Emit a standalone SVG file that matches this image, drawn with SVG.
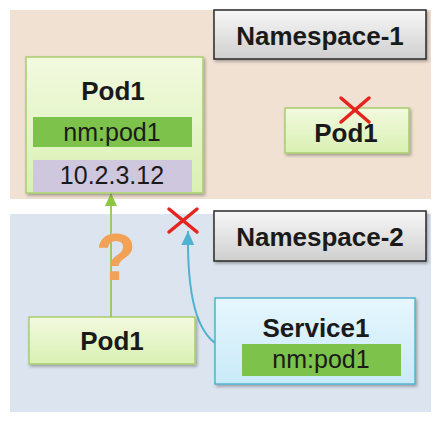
<svg xmlns="http://www.w3.org/2000/svg" width="442" height="422" viewBox="0 0 442 422">
<defs>
<linearGradient id="gGray" x1="0" y1="0" x2="0" y2="1"><stop offset="0" stop-color="#f7f7f7"/><stop offset="1" stop-color="#cfcfcf"/></linearGradient>
<linearGradient id="gGreen" x1="0" y1="0" x2="0" y2="1"><stop offset="0" stop-color="#f2fadf"/><stop offset="1" stop-color="#d9f0b2"/></linearGradient>
<linearGradient id="gBlue" x1="0" y1="0" x2="0" y2="1"><stop offset="0" stop-color="#e6f6fd"/><stop offset="1" stop-color="#c9eaf8"/></linearGradient>
<filter id="sh" x="-10%" y="-10%" width="130%" height="140%"><feDropShadow dx="1.5" dy="2" stdDeviation="1.5" flood-color="#000" flood-opacity="0.3"/></filter>
<marker id="mGreen" markerWidth="13" markerHeight="12" refX="13" refY="6" orient="auto" markerUnits="userSpaceOnUse" viewBox="0 0 13 12"><path d="M0,0 L13,6 L0,12 Z" fill="#8dc63f"/></marker>
<marker id="mBlue" markerWidth="14" markerHeight="13" refX="14" refY="6.5" orient="auto" markerUnits="userSpaceOnUse" viewBox="0 0 14 13"><path d="M0,0 L14,6.5 L0,13 Z" fill="#4fb3d0"/></marker>
</defs>
<style>
text{font-family:"Liberation Sans",Arial,sans-serif;text-anchor:middle;fill:#1a1a1a}
.b{font-weight:bold;font-size:26px}
.r{font-size:25px}
.ns{font-weight:bold;font-size:26px}
.nsbox{fill:url(#gGray);stroke:#2a2a2a;stroke-width:1.5}
.pod{fill:url(#gGreen);stroke:#a9cd6f;stroke-width:1.5}
.svc{fill:url(#gBlue);stroke:#52b2cf;stroke-width:1.5}
.tag{fill:#7dc24a}
.ip{fill:#cfc7de}
.x{stroke:#e5231f;stroke-width:3.5;stroke-linecap:round}
</style>
<rect width="442" height="422" fill="#ffffff"/>
<rect id="ns1-bg" x="10" y="10" width="421" height="189" fill="#f1e1d3"/>
<rect id="ns2-bg" x="10" y="214" width="421" height="198" fill="#dce5ef"/>

<g id="connectors">
<line x1="111" y1="317" x2="111" y2="193" stroke="#9ccb63" stroke-width="2" marker-end="url(#mGreen)"/>
<path d="M215,343 C198,330 187,300 188,231" fill="none" stroke="#4fb3d0" stroke-width="2" marker-end="url(#mBlue)"/>
</g>

<g id="namespace-1">
<rect class="nsbox" x="214" y="10" width="212" height="49" filter="url(#sh)"/>
<text class="ns" x="320" y="45">Namespace-1</text>
</g>
<g id="namespace-2">
<rect class="nsbox" x="214" y="211" width="212" height="50" filter="url(#sh)"/>
<text class="ns" x="320" y="246">Namespace-2</text>
</g>

<g id="pod1-ns1-main">
<rect class="pod" x="26" y="57" width="177" height="136" filter="url(#sh)"/>
<text class="b" x="113" y="100">Pod1</text>
<rect class="tag" x="33" y="117" width="159" height="30"/>
<text class="r" x="112" y="141">nm:pod1</text>
<rect class="ip" x="33" y="160" width="159" height="32"/>
<text class="r" x="112" y="184">10.2.3.12</text>
</g>

<g id="pod1-ns1-other">
<rect class="pod" x="285" y="108" width="124" height="45" filter="url(#sh)"/>
<text class="b" x="346" y="142">Pod1</text>
<line class="x" x1="341" y1="98" x2="369" y2="122"/>
<line class="x" x1="369" y1="98" x2="341" y2="122"/>
</g>

<g id="question">
<text x="116" y="280" style="font-size:66px;font-weight:bold;fill:#f2a257">?</text>
</g>

<g id="x-ns2">
<line class="x" x1="169" y1="209" x2="197" y2="232"/>
<line class="x" x1="197" y1="209" x2="169" y2="232"/>
</g>

<g id="pod1-ns2">
<rect class="pod" x="29" y="317" width="166" height="47" filter="url(#sh)"/>
<text class="b" x="112" y="350">Pod1</text>
</g>

<g id="service1">
<rect class="svc" x="215" y="298" width="200" height="86" filter="url(#sh)"/>
<text class="b" x="316" y="337">Service1</text>
<rect class="tag" x="242" y="344" width="159" height="32"/>
<text class="r" x="321" y="368">nm:pod1</text>
</g>
</svg>
